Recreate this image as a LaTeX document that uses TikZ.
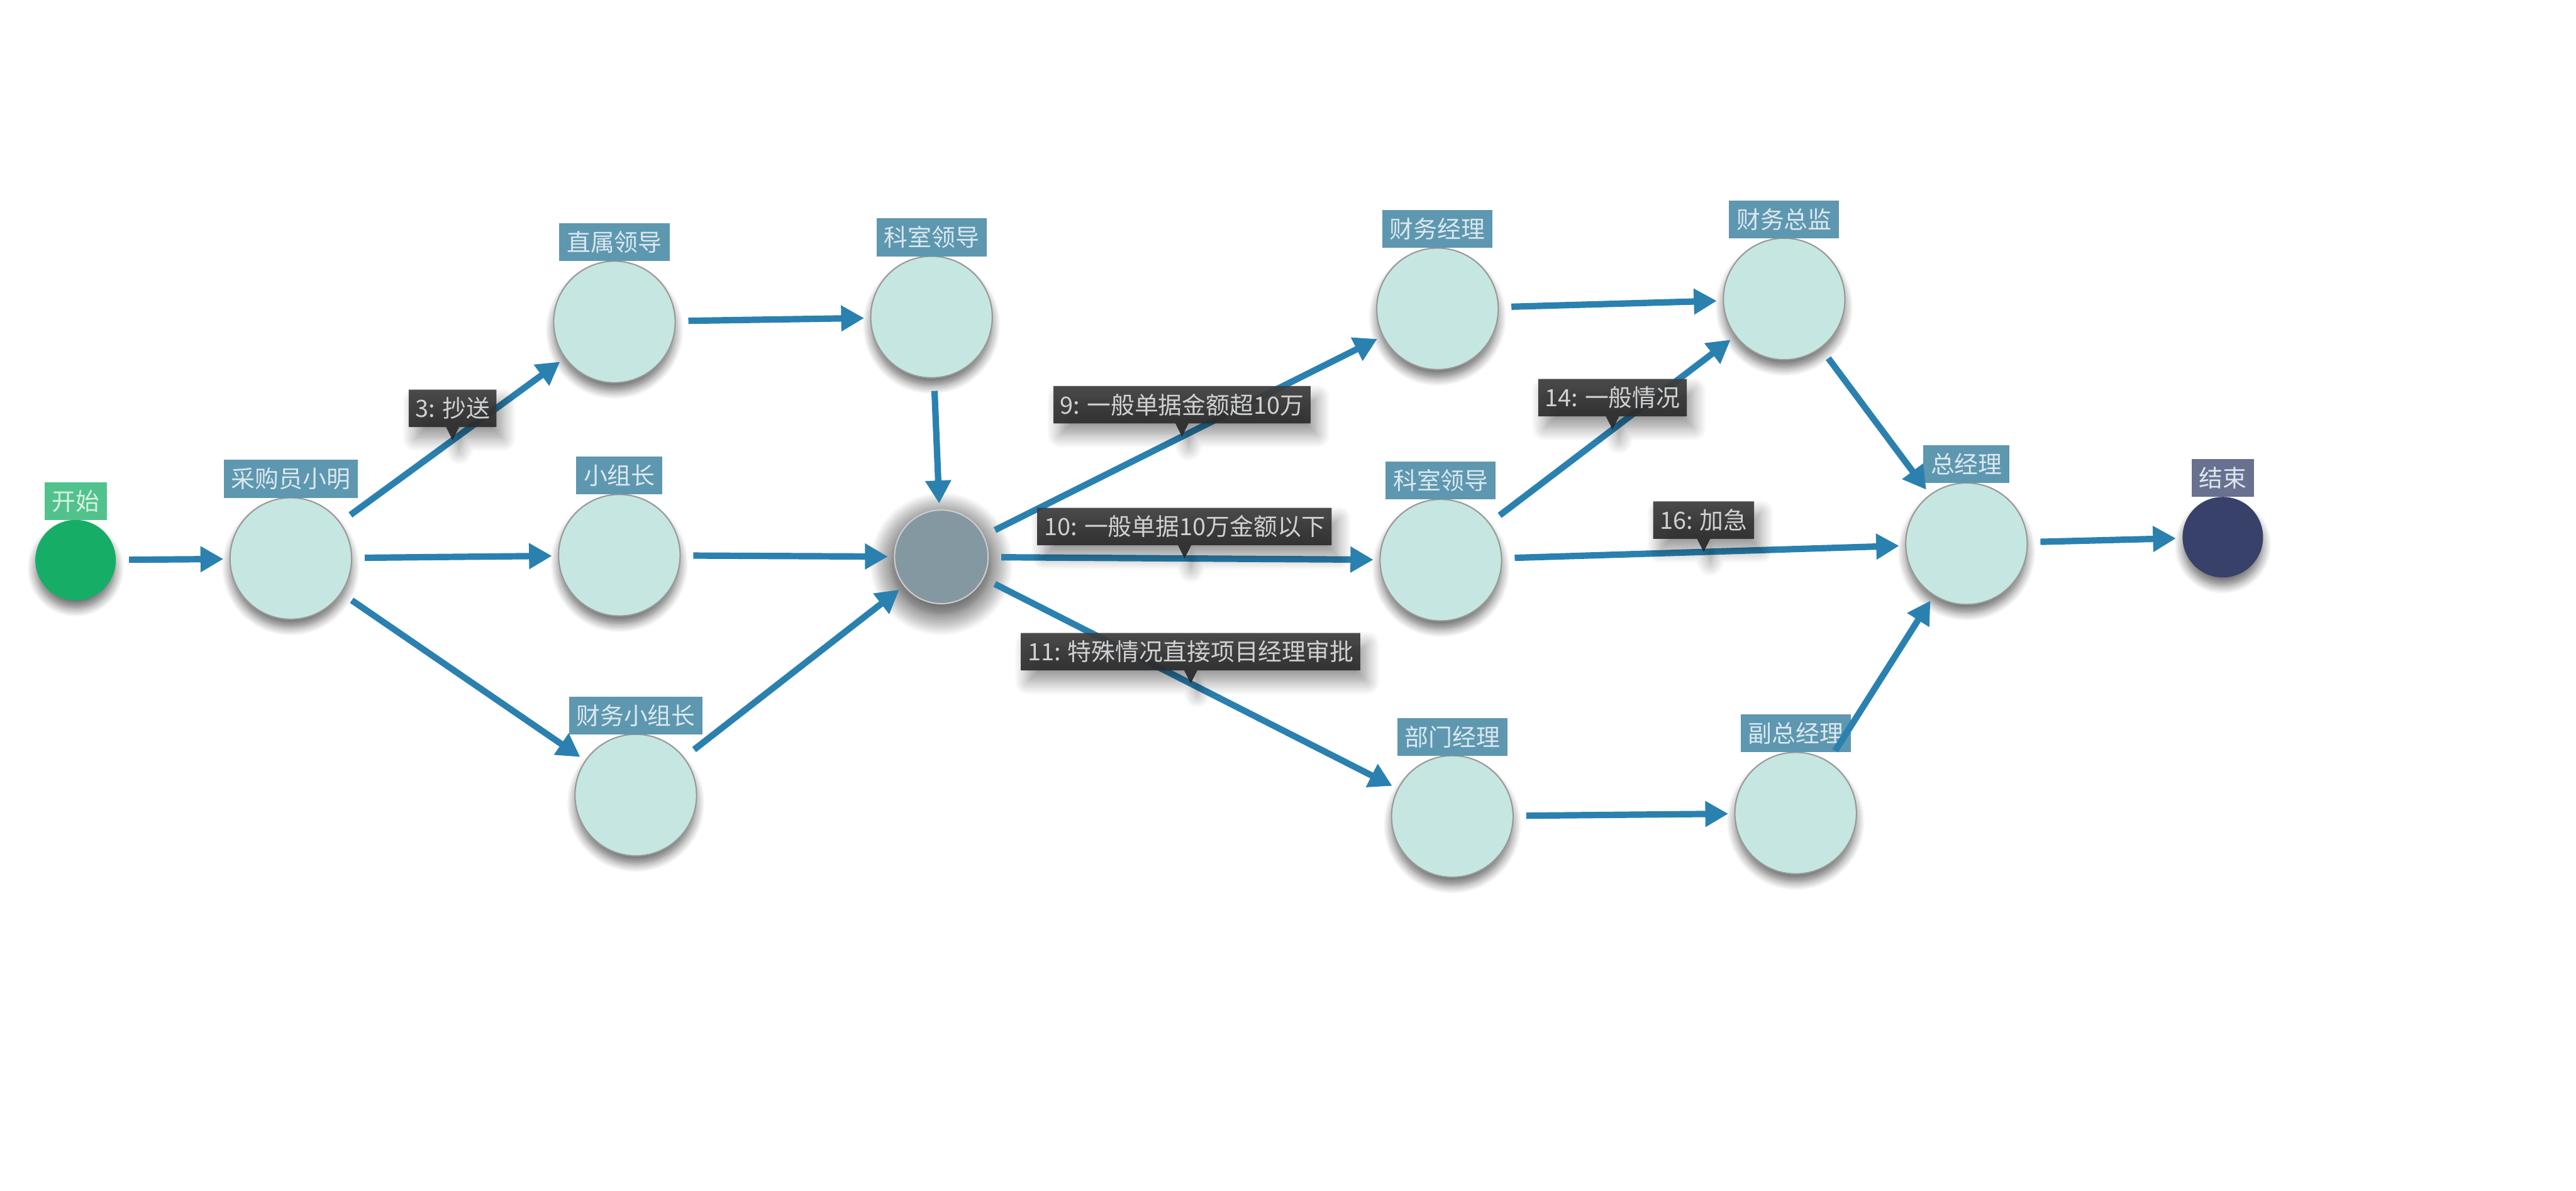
\documentclass[tikz,border=0pt]{standalone}
\usepackage{fontspec}
\setmainfont{Noto Sans CJK SC}
\usetikzlibrary{arrows.meta,shapes.callouts,shadows,shadows.blur,calc}
\definecolor{edgec}{RGB}{42,129,176}
\definecolor{nodefill}{RGB}{198,230,225}
\definecolor{labfill}{RGB}{94,151,176}
\definecolor{labtext}{RGB}{218,232,238}
\definecolor{startfill}{RGB}{22,174,103}
\definecolor{startlab}{RGB}{82,194,141}
\definecolor{startlabtext}{RGB}{214,240,228}
\definecolor{endfill}{RGB}{56,65,106}
\definecolor{endlab}{RGB}{106,112,144}
\definecolor{gwfill}{RGB}{131,152,160}
\definecolor{notetext}{RGB}{208,208,208}
\definecolor{notetop}{RGB}{62,62,62}
\definecolor{notebot}{RGB}{38,38,38}
\begin{document}
\begin{tikzpicture}[x=1pt,y=-1pt,
  task/.style={circle, draw=black!40, line width=0.8pt, fill=nodefill,
    minimum size=74pt, inner sep=0pt, outer sep=0pt,
    blur shadow={shadow xshift=0pt, shadow yshift=-5pt, shadow opacity=55,
      shadow blur radius=5pt, shadow blur steps=10}},
  termnode/.style={task, minimum size=49pt, draw=none},
  gateway/.style={task, minimum size=57pt, fill=gwfill, draw=black!20,
    blur shadow={shadow xshift=0pt, shadow yshift=-4pt, shadow opacity=45,
      shadow scale=1.08, shadow blur radius=12pt, shadow blur steps=14}},
  lab/.style={rectangle, fill=labfill, text=labtext, anchor=south,
    font=\fontsize{14.5}{15}\selectfont, inner xsep=4.5pt, inner ysep=0pt,
    minimum height=23pt, outer sep=0pt},
  flow/.style={draw=edgec, line width=3.9pt,
    -{Triangle[length=14pt,width=15pt]}, shorten <=8pt, shorten >=4pt},
  note/.style={rectangle callout, callout pointer width=8pt,
    top color=notetop, bottom color=notebot, fill opacity=0.93, text opacity=1,
    text=notetext, font=\fontsize{14.5}{15}\selectfont,
    inner xsep=4pt, inner ysep=0pt, minimum height=22.8pt,
    blur shadow={shadow xshift=4pt, shadow yshift=-7pt, shadow opacity=45,
      shadow blur radius=8pt, shadow blur steps=12}}
]
\useasboundingbox (0,0) rectangle (1568,725);

% nodes
\node[termnode, fill=startfill] (start) at (46,341) {};
\node[lab, fill=startlab, text=startlabtext] (startL) at (start.north) {开始};

\node[task] (buyer) at (177,340) {};
\node[lab] (buyerL) at (buyer.north) {采购员小明};

\node[task] (zs) at (374,196) {};
\node[lab] (zsL) at (zs.north) {直属领导};

\node[task] (ks1) at (567,193) {};
\node[lab] (ks1L) at (ks1.north) {科室领导};

\node[task] (xz) at (377,338) {};
\node[lab] (xzL) at (xz.north) {小组长};

\node[task] (cw) at (387,484) {};
\node[lab] (cwL) at (cw.north) {财务小组长};

\node[gateway] (gw) at (573,339) {};

\node[task] (cwjl) at (875,188) {};
\node[lab] (cwjlL) at (cwjl.north) {财务经理};

\node[task] (ks2) at (877,341) {};
\node[lab] (ks2L) at (ks2.north) {科室领导};

\node[task] (bm) at (884,497) {};
\node[lab] (bmL) at (bm.north) {部门经理};

\node[task] (zj) at (1086,182) {};
\node[lab] (zjL) at (zj.north) {财务总监};

\node[task] (fz) at (1093,495) {};
\node[lab] (fzL) at (fz.north) {副总经理};

\node[task] (zong) at (1197,331) {};
\node[lab] (zongL) at (zong.north) {总经理};

\node[termnode, fill=endfill] (stop) at (1353,327) {};
\node[lab, fill=endlab] (stopL) at (stop.north) {结束};

% connectors
\draw[flow] (start) -- (buyer);
\draw[flow] (buyer) -- (zs);
\draw[flow] (buyer) -- (xz);
\draw[flow] (buyer) -- (cw);
\draw[flow] (zs) -- (ks1);
\draw[flow] (ks1) -- (gw);
\draw[flow] (xz) -- (gw);
\draw[flow] (cw) -- (gw);
\draw[flow] (gw) -- (cwjl);
\draw[flow] (gw) -- (ks2);
\draw[flow] (gw) -- (bm);
\draw[flow] (cwjl) -- (zj);
\draw[flow] (ks2) -- (zj);
\draw[flow] (ks2) -- (zong);
\draw[flow] (bm) -- (fz);
\draw[flow] (zj) -- (zong);
\draw[flow] (fz) -- (zong);
\draw[flow] (zong) -- (stop);

% labels on connectors
\node[note, callout absolute pointer={($(buyer)!0.5!(zs)$)}] (n3)
  at ($(buyer)!0.5!(zs)+(0,-19.4)$) {3: 抄送};
\node[note, callout absolute pointer={($(gw)!0.485!(cwjl)$)}] (n9)
  at ($(gw)!0.485!(cwjl)+(0,-19.4)$) {9: 一般单据金额超10万};
\node[note, callout absolute pointer={($(gw)!0.487!(ks2)$)}] (n10)
  at ($(gw)!0.487!(ks2)+(0,-19.4)$) {10: 一般单据10万金额以下};
\node[note, callout absolute pointer={($(gw)!0.488!(bm)$)}] (n11)
  at ($(gw)!0.488!(bm)+(0,-19.4)$) {11: 特殊情况直接项目经理审批};
\node[note, callout absolute pointer={($(ks2)!0.5!(zj)$)}] (n14)
  at ($(ks2)!0.5!(zj)+(0,-19.4)$) {14: 一般情况};
\node[note, callout absolute pointer={($(ks2)!0.5!(zong)$)}] (n16)
  at ($(ks2)!0.5!(zong)+(0,-19.4)$) {16: 加急};
\end{tikzpicture}
\end{document}
